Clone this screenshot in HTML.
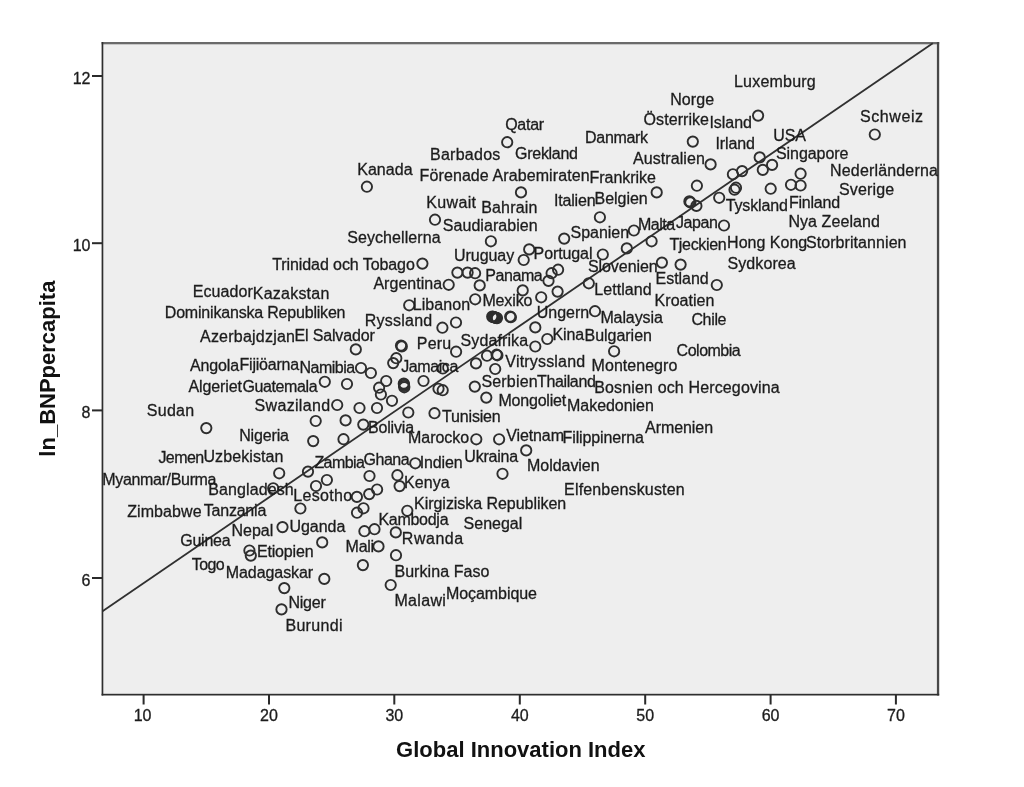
<!DOCTYPE html>
<html><head><meta charset="utf-8"><title>Scatter</title>
<style>
html,body{margin:0;padding:0;background:#fff;}
svg{display:block;font-family:"Liberation Sans",Arial,sans-serif;}
.l{font-size:16px;fill:#1c1c1c;stroke:#1c1c1c;stroke-width:0.3;}
.t{font-size:16px;fill:#1c1c1c;stroke:#1c1c1c;stroke-width:0.3;}
.ax{font-size:22px;font-weight:bold;fill:#111;}
.p{fill:none;stroke:#2e2e2e;stroke-width:1.9;}
</style></head><body>
<svg width="1024" height="787" viewBox="0 0 1024 787">
<rect x="0" y="0" width="1024" height="787" fill="#ffffff"/>
<rect x="102" y="43" width="836" height="651.5" fill="#eeeeee"/>
<rect x="101.6" y="42" width="837.6" height="2.3" fill="#6a6a6a"/>
<rect x="936.9" y="42" width="2.3" height="653.5" fill="#484848"/>
<rect x="101.6" y="42" width="1.7" height="653.5" fill="#2e2e2e"/>
<rect x="101.6" y="693.8" width="837.6" height="1.7" fill="#2e2e2e"/>

<rect x="142.6" y="695" width="2" height="9.5" fill="#2a2a2a"/>
<text class="t" x="142.6" y="720.5" text-anchor="middle">10</text>
<rect x="268.0" y="695" width="2" height="9.5" fill="#2a2a2a"/>
<text class="t" x="269.0" y="720.5" text-anchor="middle">20</text>
<rect x="393.3" y="695" width="2" height="9.5" fill="#2a2a2a"/>
<text class="t" x="394.3" y="720.5" text-anchor="middle">30</text>
<rect x="518.8" y="695" width="2" height="9.5" fill="#2a2a2a"/>
<text class="t" x="519.8" y="720.5" text-anchor="middle">40</text>
<rect x="644.2" y="695" width="2" height="9.5" fill="#2a2a2a"/>
<text class="t" x="645.2" y="720.5" text-anchor="middle">50</text>
<rect x="769.6" y="695" width="2" height="9.5" fill="#2a2a2a"/>
<text class="t" x="770.6" y="720.5" text-anchor="middle">60</text>
<rect x="894.9" y="695" width="2" height="9.5" fill="#2a2a2a"/>
<text class="t" x="895.9" y="720.5" text-anchor="middle">70</text>
<rect x="92" y="75.0" width="10" height="2" fill="#2a2a2a"/>
<text class="t" x="90.5" y="84.0" text-anchor="end">12</text>
<rect x="92" y="242.2" width="10" height="2" fill="#2a2a2a"/>
<text class="t" x="90.5" y="251.2" text-anchor="end">10</text>
<rect x="92" y="409.4" width="10" height="2" fill="#2a2a2a"/>
<text class="t" x="90.5" y="418.4" text-anchor="end">8</text>
<rect x="92" y="577.0" width="10" height="2" fill="#2a2a2a"/>
<text class="t" x="90.5" y="586.0" text-anchor="end">6</text>
<text class="ax" x="520.8" y="757.4" text-anchor="middle">Global Innovation Index</text>
<text class="ax" transform="translate(55,368.6) rotate(-90)" text-anchor="middle">ln_BNPpercapita</text>
<line x1="102.5" y1="611.3" x2="932.8" y2="43.2" stroke="#303030" stroke-width="1.8"/>
<g class="p">
<circle cx="366.9" cy="186.7" r="5.15"/>
<circle cx="507.2" cy="142.2" r="5.15"/>
<circle cx="521.0" cy="192.4" r="5.15"/>
<circle cx="692.8" cy="141.6" r="5.15"/>
<circle cx="710.6" cy="164.4" r="5.15"/>
<circle cx="696.9" cy="185.7" r="5.15"/>
<circle cx="656.7" cy="192.4" r="5.15"/>
<circle cx="758.1" cy="115.6" r="5.15"/>
<circle cx="874.8" cy="134.5" r="5.15"/>
<circle cx="759.7" cy="157.4" r="5.15"/>
<circle cx="772.1" cy="164.9" r="5.15"/>
<circle cx="762.8" cy="169.9" r="5.15"/>
<circle cx="742.1" cy="171.1" r="5.15"/>
<circle cx="732.9" cy="174.3" r="5.15"/>
<circle cx="800.6" cy="173.7" r="5.15"/>
<circle cx="800.6" cy="185.5" r="5.15"/>
<circle cx="791.0" cy="184.8" r="5.15"/>
<circle cx="770.7" cy="188.7" r="5.15"/>
<circle cx="734.5" cy="189.7" r="5.15"/>
<circle cx="736.0" cy="187.7" r="5.15"/>
<circle cx="719.2" cy="197.8" r="5.15"/>
<circle cx="689.4" cy="201.4" r="5.15"/>
<circle cx="690.4" cy="202.4" r="5.15"/>
<circle cx="696.4" cy="205.9" r="5.15"/>
<circle cx="724.0" cy="225.5" r="5.15"/>
<circle cx="435.0" cy="219.7" r="5.15"/>
<circle cx="490.9" cy="241.3" r="5.15"/>
<circle cx="422.4" cy="263.6" r="5.15"/>
<circle cx="457.4" cy="272.6" r="5.15"/>
<circle cx="467.6" cy="272.6" r="5.15"/>
<circle cx="475.1" cy="273.2" r="5.15"/>
<circle cx="448.7" cy="284.8" r="5.15"/>
<circle cx="479.7" cy="285.4" r="5.15"/>
<circle cx="409.2" cy="305.3" r="5.15"/>
<circle cx="475.2" cy="299.3" r="5.15"/>
<circle cx="442.4" cy="327.7" r="5.15"/>
<circle cx="456.0" cy="322.5" r="5.15"/>
<circle cx="492.2" cy="316.6" r="5.15"/>
<circle cx="493.0" cy="316.9" r="5.15"/>
<circle cx="493.8" cy="317.1" r="5.15"/>
<circle cx="494.6" cy="317.4" r="5.15"/>
<circle cx="495.4" cy="317.6" r="5.15"/>
<circle cx="496.2" cy="317.9" r="5.15"/>
<circle cx="497.0" cy="318.1" r="5.15"/>
<circle cx="510.2" cy="316.6" r="5.15"/>
<circle cx="510.9" cy="317.2" r="5.15"/>
<circle cx="355.8" cy="349.4" r="5.15"/>
<circle cx="401.0" cy="345.6" r="5.15"/>
<circle cx="401.8" cy="346.4" r="5.15"/>
<circle cx="396.3" cy="358.2" r="5.15"/>
<circle cx="393.2" cy="363.1" r="5.15"/>
<circle cx="456.1" cy="351.7" r="5.15"/>
<circle cx="487.0" cy="355.7" r="5.15"/>
<circle cx="496.6" cy="354.7" r="5.15"/>
<circle cx="497.4" cy="355.3" r="5.15"/>
<circle cx="599.9" cy="217.3" r="5.15"/>
<circle cx="564.2" cy="238.6" r="5.15"/>
<circle cx="633.9" cy="230.5" r="5.15"/>
<circle cx="651.6" cy="241.3" r="5.15"/>
<circle cx="626.8" cy="248.4" r="5.15"/>
<circle cx="529.2" cy="249.4" r="5.15"/>
<circle cx="523.7" cy="260.0" r="5.15"/>
<circle cx="602.8" cy="254.5" r="5.15"/>
<circle cx="661.9" cy="262.6" r="5.15"/>
<circle cx="680.6" cy="264.6" r="5.15"/>
<circle cx="558.1" cy="269.7" r="5.15"/>
<circle cx="551.6" cy="273.2" r="5.15"/>
<circle cx="548.5" cy="280.9" r="5.15"/>
<circle cx="588.8" cy="283.3" r="5.15"/>
<circle cx="716.8" cy="285.0" r="5.15"/>
<circle cx="522.7" cy="290.4" r="5.15"/>
<circle cx="557.6" cy="291.6" r="5.15"/>
<circle cx="541.2" cy="297.3" r="5.15"/>
<circle cx="595.0" cy="311.2" r="5.15"/>
<circle cx="535.3" cy="327.4" r="5.15"/>
<circle cx="547.3" cy="339.0" r="5.15"/>
<circle cx="535.3" cy="346.5" r="5.15"/>
<circle cx="614.1" cy="351.3" r="5.15"/>
<circle cx="361.0" cy="368.0" r="5.15"/>
<circle cx="370.9" cy="373.0" r="5.15"/>
<circle cx="324.8" cy="381.8" r="5.15"/>
<circle cx="347.0" cy="384.0" r="5.15"/>
<circle cx="386.2" cy="381.0" r="5.15"/>
<circle cx="379.1" cy="387.7" r="5.15"/>
<circle cx="380.9" cy="394.5" r="5.15"/>
<circle cx="392.0" cy="400.8" r="5.15"/>
<circle cx="403.8" cy="383.6" r="5.15"/>
<circle cx="404.0" cy="384.8" r="5.15"/>
<circle cx="404.1" cy="386.0" r="5.15"/>
<circle cx="404.3" cy="387.3" r="5.15"/>
<circle cx="423.5" cy="381.0" r="5.15"/>
<circle cx="442.8" cy="368.5" r="5.15"/>
<circle cx="438.5" cy="388.8" r="5.15"/>
<circle cx="442.7" cy="390.2" r="5.15"/>
<circle cx="476.0" cy="363.4" r="5.15"/>
<circle cx="495.2" cy="369.0" r="5.15"/>
<circle cx="474.8" cy="386.6" r="5.15"/>
<circle cx="486.3" cy="397.6" r="5.15"/>
<circle cx="337.2" cy="405.0" r="5.15"/>
<circle cx="359.5" cy="408.0" r="5.15"/>
<circle cx="377.0" cy="408.0" r="5.15"/>
<circle cx="408.3" cy="412.5" r="5.15"/>
<circle cx="434.5" cy="413.2" r="5.15"/>
<circle cx="315.7" cy="421.0" r="5.15"/>
<circle cx="345.6" cy="420.4" r="5.15"/>
<circle cx="363.3" cy="424.6" r="5.15"/>
<circle cx="313.2" cy="441.1" r="5.15"/>
<circle cx="343.5" cy="439.2" r="5.15"/>
<circle cx="476.3" cy="439.3" r="5.15"/>
<circle cx="499.1" cy="439.3" r="5.15"/>
<circle cx="415.3" cy="463.3" r="5.15"/>
<circle cx="308.0" cy="471.6" r="5.15"/>
<circle cx="326.9" cy="480.0" r="5.15"/>
<circle cx="316.0" cy="486.0" r="5.15"/>
<circle cx="369.5" cy="476.0" r="5.15"/>
<circle cx="397.4" cy="475.2" r="5.15"/>
<circle cx="399.6" cy="486.1" r="5.15"/>
<circle cx="502.5" cy="473.8" r="5.15"/>
<circle cx="377.1" cy="489.5" r="5.15"/>
<circle cx="369.2" cy="494.1" r="5.15"/>
<circle cx="356.9" cy="496.9" r="5.15"/>
<circle cx="363.5" cy="508.3" r="5.15"/>
<circle cx="357.0" cy="512.7" r="5.15"/>
<circle cx="407.3" cy="510.8" r="5.15"/>
<circle cx="206.3" cy="428.1" r="5.15"/>
<circle cx="279.2" cy="473.3" r="5.15"/>
<circle cx="273.2" cy="488.3" r="5.15"/>
<circle cx="300.4" cy="508.5" r="5.15"/>
<circle cx="526.2" cy="450.4" r="5.15"/>
<circle cx="282.5" cy="527.1" r="5.15"/>
<circle cx="249.4" cy="550.5" r="5.15"/>
<circle cx="250.8" cy="555.6" r="5.15"/>
<circle cx="284.3" cy="588.1" r="5.15"/>
<circle cx="281.5" cy="609.4" r="5.15"/>
<circle cx="364.4" cy="531.2" r="5.15"/>
<circle cx="374.5" cy="529.2" r="5.15"/>
<circle cx="395.8" cy="532.4" r="5.15"/>
<circle cx="322.2" cy="542.4" r="5.15"/>
<circle cx="378.5" cy="546.4" r="5.15"/>
<circle cx="396.0" cy="555.2" r="5.15"/>
<circle cx="362.9" cy="565.1" r="5.15"/>
<circle cx="324.3" cy="578.9" r="5.15"/>
<circle cx="390.7" cy="585.0" r="5.15"/>
</g>
<g class="l">
<text x="734.0" y="86.8" dx="0 0.21 0.21 0.21 0.21 0.21 0.21 0.21 0.21">Luxemburg</text>
<text x="670.2" y="104.5" dx="0 0.09 0.09 0.09 0.09">Norge</text>
<text x="859.9" y="122.2" dx="0 0.60 0.60 0.60 0.60 0.60 0.60">Schweiz</text>
<text x="643.6" y="124.8" dx="0 0.06 0.06 0.06 0.06 0.06 0.06 0.06 0.06">Österrike</text>
<text x="709.4" y="128.3" dx="0 -0.04 -0.04 -0.04 -0.04 -0.04">Island</text>
<text x="505.2" y="129.7" dx="0 -0.29 -0.29 -0.29 -0.29">Qatar</text>
<text x="773.2" y="140.5" dx="0 -0.08 -0.08">USA</text>
<text x="585.1" y="143.1" dx="0 -0.32 -0.32 -0.32 -0.32 -0.32 -0.32">Danmark</text>
<text x="715.5" y="149.2" dx="0 -0.11 -0.11 -0.11 -0.11 -0.11">Irland</text>
<text x="430.0" y="160.0" dx="0 0.26 0.26 0.26 0.26 0.26 0.26 0.26">Barbados</text>
<text x="515.1" y="159.2" dx="0 -0.30 -0.30 -0.30 -0.30 -0.30 -0.30 -0.30">Grekland</text>
<text x="775.9" y="159.4" dx="0 -0.05 -0.05 -0.05 -0.05 -0.05 -0.05 -0.05 -0.05">Singapore</text>
<text x="632.9" y="164.1" dx="0 0.09 0.09 0.09 0.09 0.09 0.09 0.09 0.09 0.09">Australien</text>
<text x="357.2" y="175.1" dx="0 0.03 0.03 0.03 0.03 0.03">Kanada</text>
<text x="830.1" y="175.7" dx="0 0.15 0.15 0.15 0.15 0.15 0.15 0.15 0.15 0.15 0.15 0.15 0.15">Nederländerna</text>
<text x="419.6" y="180.7" dx="0 0.09 0.09 0.09 0.09 0.09 0.09 0.09 0.09 0.09 0.09 0.09 0.09 0.09 0.09 0.09 0.09 0.09 0.09 0.09 0.09">Förenade Arabemiraten</text>
<text x="589.6" y="183.2" dx="0 -0.05 -0.05 -0.05 -0.05 -0.05 -0.05 -0.05 -0.05">Frankrike</text>
<text x="839.0" y="194.5" dx="0 0.15 0.15 0.15 0.15 0.15 0.15">Sverige</text>
<text x="426.2" y="207.5" dx="0 0.35 0.35 0.35 0.35 0.35">Kuwait</text>
<text x="553.9" y="205.5" dx="0 -0.17 -0.17 -0.17 -0.17 -0.17 -0.17">Italien</text>
<text x="594.6" y="203.5" dx="0 -0.06 -0.06 -0.06 -0.06 -0.06 -0.06">Belgien</text>
<text x="725.8" y="211.3" dx="0 -0.17 -0.17 -0.17 -0.17 -0.17 -0.17 -0.17">Tyskland</text>
<text x="788.9" y="207.5" dx="0 -0.23 -0.23 -0.23 -0.23 -0.23 -0.23">Finland</text>
<text x="481.2" y="213.1" dx="0 0.16 0.16 0.16 0.16 0.16 0.16">Bahrain</text>
<text x="788.4" y="226.9" dx="0 0.07 0.07 0.07 0.07 0.07 0.07 0.07 0.07 0.07 0.07">Nya Zeeland</text>
<text x="675.9" y="227.9" dx="0 -0.38 -0.38 -0.38 -0.38">Japan</text>
<text x="638.0" y="229.6" dx="0 -0.48 -0.48 -0.48 -0.48">Malta</text>
<text x="442.8" y="231.0" dx="0 0.04 0.04 0.04 0.04 0.04 0.04 0.04 0.04 0.04 0.04 0.04">Saudiarabien</text>
<text x="570.5" y="238.1" dx="0 -0.02 -0.02 -0.02 -0.02 -0.02 -0.02">Spanien</text>
<text x="347.2" y="243.2" dx="0 0.07 0.07 0.07 0.07 0.07 0.07 0.07 0.07 0.07 0.07 0.07">Seychellerna</text>
<text x="727.1" y="247.7" dx="0 -0.00 -0.00 -0.00 -0.00 -0.00 -0.00 -0.00 -0.00">Hong Kong</text>
<text x="805.9" y="247.7" dx="0 0.07 0.07 0.07 0.07 0.07 0.07 0.07 0.07 0.07 0.07 0.07 0.07 0.07">Storbritannien</text>
<text x="669.4" y="250.3" dx="0 -0.34 -0.34 -0.34 -0.34 -0.34 -0.34 -0.34">Tjeckien</text>
<text x="533.6" y="259.0" dx="0 -0.11 -0.11 -0.11 -0.11 -0.11 -0.11 -0.11">Portugal</text>
<text x="454.1" y="261.1" dx="0 -0.07 -0.07 -0.07 -0.07 -0.07 -0.07">Uruguay</text>
<text x="727.4" y="268.6" dx="0 0.10 0.10 0.10 0.10 0.10 0.10 0.10">Sydkorea</text>
<text x="272.2" y="270.0" dx="0 -0.09 -0.09 -0.09 -0.09 -0.09 -0.09 -0.09 -0.09 -0.09 -0.09 -0.09 -0.09 -0.09 -0.09 -0.09 -0.09 -0.09 -0.09">Trinidad och Tobago</text>
<text x="587.9" y="271.6" dx="0 -0.06 -0.06 -0.06 -0.06 -0.06 -0.06 -0.06 -0.06">Slovenien</text>
<text x="485.2" y="281.4" dx="0 -0.42 -0.42 -0.42 -0.42 -0.42">Panama</text>
<text x="655.6" y="284.4" dx="0 -0.06 -0.06 -0.06 -0.06 -0.06 -0.06">Estland</text>
<text x="373.4" y="289.3" dx="0 0.03 0.03 0.03 0.03 0.03 0.03 0.03 0.03">Argentina</text>
<text x="594.2" y="295.0" dx="0 0.07 0.07 0.07 0.07 0.07 0.07 0.07">Lettland</text>
<text x="192.8" y="297.0" dx="0 0.05 0.05 0.05 0.05 0.05 0.05">Ecuador</text>
<text x="252.8" y="299.1" dx="0 0.22 0.22 0.22 0.22 0.22 0.22 0.22 0.22">Kazakstan</text>
<text x="654.6" y="305.8" dx="0 0.02 0.02 0.02 0.02 0.02 0.02 0.02">Kroatien</text>
<text x="482.4" y="306.0" dx="0 -0.13 -0.13 -0.13 -0.13 -0.13">Mexiko</text>
<text x="412.7" y="310.3" dx="0 0.08 0.08 0.08 0.08 0.08 0.08">Libanon</text>
<text x="536.7" y="317.5" dx="0 -0.00 -0.00 -0.00 -0.00 -0.00">Ungern</text>
<text x="164.8" y="318.0" dx="0 -0.20 -0.20 -0.20 -0.20 -0.20 -0.20 -0.20 -0.20 -0.20 -0.20 -0.20 -0.20 -0.20 -0.20 -0.20 -0.20 -0.20 -0.20 -0.20 -0.20 -0.20 -0.20">Dominikanska Republiken</text>
<text x="600.4" y="322.5" dx="0 -0.11 -0.11 -0.11 -0.11 -0.11 -0.11 -0.11">Malaysia</text>
<text x="691.4" y="324.9" dx="0 -0.35 -0.35 -0.35 -0.35">Chile</text>
<text x="364.7" y="326.1" dx="0 0.24 0.24 0.24 0.24 0.24 0.24 0.24">Ryssland</text>
<text x="552.6" y="339.7" dx="0 -0.17 -0.17 -0.17">Kina</text>
<text x="584.5" y="340.7" dx="0 -0.03 -0.03 -0.03 -0.03 -0.03 -0.03 -0.03 -0.03">Bulgarien</text>
<text x="294.5" y="340.5" dx="0 -0.16 -0.16 -0.16 -0.16 -0.16 -0.16 -0.16 -0.16 -0.16 -0.16">El Salvador</text>
<text x="200.0" y="341.8" dx="0 0.22 0.22 0.22 0.22 0.22 0.22 0.22 0.22 0.22 0.22 0.22">Azerbajdzjan</text>
<text x="460.6" y="345.5" dx="0 0.09 0.09 0.09 0.09 0.09 0.09 0.09 0.09">Sydafrika</text>
<text x="416.8" y="348.9" dx="0 0.16 0.16 0.16">Peru</text>
<text x="676.6" y="356.0" dx="0 -0.50 -0.50 -0.50 -0.50 -0.50 -0.50 -0.50">Colombia</text>
<text x="505.3" y="366.5" dx="0 0.19 0.19 0.19 0.19 0.19 0.19 0.19 0.19 0.19 0.19">Vitryssland</text>
<text x="591.6" y="370.7" dx="0 0.03 0.03 0.03 0.03 0.03 0.03 0.03 0.03 0.03">Montenegro</text>
<text x="190.0" y="370.7" dx="0 -0.15 -0.15 -0.15 -0.15 -0.15">Angola</text>
<text x="239.5" y="369.6" dx="0 -0.22 -0.22 -0.22 -0.22 -0.22 -0.22 -0.22 -0.22">Fijiöarna</text>
<text x="299.6" y="372.5" dx="0 -0.54 -0.54 -0.54 -0.54 -0.54 -0.54">Namibia</text>
<text x="401.2" y="371.6" dx="0 -0.42 -0.42 -0.42 -0.42 -0.42 -0.42">Jamaica</text>
<text x="481.4" y="387.3" dx="0 0.18 0.18 0.18 0.18 0.18 0.18">Serbien</text>
<text x="537.1" y="386.9" dx="0 -0.39 -0.39 -0.39 -0.39 -0.39 -0.39 -0.39">Thailand</text>
<text x="188.4" y="392.0" dx="0 -0.09 -0.09 -0.09 -0.09 -0.09 -0.09 -0.09">Algeriet</text>
<text x="242.5" y="392.0" dx="0 -0.41 -0.41 -0.41 -0.41 -0.41 -0.41 -0.41 -0.41">Guatemala</text>
<text x="594.2" y="392.6" dx="0 0.14 0.14 0.14 0.14 0.14 0.14 0.14 0.14 0.14 0.14 0.14 0.14 0.14 0.14 0.14 0.14 0.14 0.14 0.14 0.14 0.14 0.14">Bosnien och Hercegovina</text>
<text x="498.4" y="405.6" dx="0 -0.20 -0.20 -0.20 -0.20 -0.20 -0.20 -0.20 -0.20">Mongoliet</text>
<text x="254.6" y="411.3" dx="0 0.31 0.31 0.31 0.31 0.31 0.31 0.31 0.31">Swaziland</text>
<text x="567.1" y="411.3" dx="0 -0.06 -0.06 -0.06 -0.06 -0.06 -0.06 -0.06 -0.06 -0.06">Makedonien</text>
<text x="146.8" y="415.8" dx="0 0.26 0.26 0.26 0.26">Sudan</text>
<text x="442.0" y="421.9" dx="0 -0.17 -0.17 -0.17 -0.17 -0.17 -0.17 -0.17">Tunisien</text>
<text x="368.0" y="432.7" dx="0 -0.19 -0.19 -0.19 -0.19 -0.19 -0.19">Bolivia</text>
<text x="645.1" y="432.7" dx="0 -0.08 -0.08 -0.08 -0.08 -0.08 -0.08 -0.08">Armenien</text>
<text x="239.2" y="441.4" dx="0 -0.16 -0.16 -0.16 -0.16 -0.16 -0.16">Nigeria</text>
<text x="506.2" y="441.0" dx="0 -0.11 -0.11 -0.11 -0.11 -0.11 -0.11">Vietnam</text>
<text x="408.0" y="442.8" dx="0 -0.05 -0.05 -0.05 -0.05 -0.05 -0.05">Marocko</text>
<text x="562.6" y="442.8" dx="0 -0.14 -0.14 -0.14 -0.14 -0.14 -0.14 -0.14 -0.14 -0.14 -0.14 -0.14">Filippinerna</text>
<text x="203.4" y="462.1" dx="0 0.10 0.10 0.10 0.10 0.10 0.10 0.10 0.10 0.10">Uzbekistan</text>
<text x="464.3" y="462.1" dx="0 -0.22 -0.22 -0.22 -0.22 -0.22 -0.22">Ukraina</text>
<text x="158.4" y="463.1" dx="0 -0.56 -0.56 -0.56 -0.56">Jemen</text>
<text x="363.5" y="465.2" dx="0 -0.48 -0.48 -0.48 -0.48">Ghana</text>
<text x="314.4" y="468.4" dx="0 -0.58 -0.58 -0.58 -0.58 -0.58">Zambia</text>
<text x="419.7" y="468.2" dx="0 -0.13 -0.13 -0.13 -0.13 -0.13">Indien</text>
<text x="527.1" y="471.3" dx="0 -0.06 -0.06 -0.06 -0.06 -0.06 -0.06 -0.06 -0.06">Moldavien</text>
<text x="102.3" y="484.9" dx="0 -0.34 -0.34 -0.34 -0.34 -0.34 -0.34 -0.34 -0.34 -0.34 -0.34 -0.34 -0.34">Myanmar/Burma</text>
<text x="403.9" y="487.5" dx="0 0.11 0.11 0.11 0.11">Kenya</text>
<text x="208.2" y="495.1" dx="0 0.10 0.10 0.10 0.10 0.10 0.10 0.10 0.10 0.10">Bangladesh</text>
<text x="564.1" y="495.1" dx="0 0.15 0.15 0.15 0.15 0.15 0.15 0.15 0.15 0.15 0.15 0.15 0.15 0.15 0.15">Elfenbenskusten</text>
<text x="293.2" y="501.0" dx="0 0.32 0.32 0.32 0.32 0.32 0.32">Lesotho</text>
<text x="414.1" y="508.5" dx="0 -0.05 -0.05 -0.05 -0.05 -0.05 -0.05 -0.05 -0.05 -0.05 -0.05 -0.05 -0.05 -0.05 -0.05 -0.05 -0.05 -0.05 -0.05 -0.05 -0.05">Kirgiziska Republiken</text>
<text x="203.7" y="515.7" dx="0 -0.21 -0.21 -0.21 -0.21 -0.21 -0.21 -0.21">Tanzania</text>
<text x="127.2" y="517.4" dx="0 0.08 0.08 0.08 0.08 0.08 0.08 0.08">Zimbabwe</text>
<text x="378.4" y="524.5" dx="0 -0.28 -0.28 -0.28 -0.28 -0.28 -0.28 -0.28">Kambodja</text>
<text x="463.6" y="529.2" dx="0 -0.01 -0.01 -0.01 -0.01 -0.01 -0.01">Senegal</text>
<text x="289.4" y="531.7" dx="0 -0.03 -0.03 -0.03 -0.03 -0.03">Uganda</text>
<text x="231.4" y="535.7" dx="0 0.02 0.02 0.02 0.02">Nepal</text>
<text x="401.8" y="544.3" dx="0 0.52 0.52 0.52 0.52 0.52">Rwanda</text>
<text x="180.3" y="545.9" dx="0 -0.27 -0.27 -0.27 -0.27 -0.27">Guinea</text>
<text x="345.6" y="552.0" dx="0 -0.27 -0.27 -0.27">Mali</text>
<text x="256.9" y="556.7" dx="0 -0.17 -0.17 -0.17 -0.17 -0.17 -0.17 -0.17">Etiopien</text>
<text x="191.8" y="569.9" dx="0 -0.64 -0.64 -0.64">Togo</text>
<text x="394.4" y="577.4" dx="0 0.07 0.07 0.07 0.07 0.07 0.07 0.07 0.07 0.07 0.07 0.07">Burkina Faso</text>
<text x="225.8" y="578.4" dx="0 -0.08 -0.08 -0.08 -0.08 -0.08 -0.08 -0.08 -0.08 -0.08">Madagaskar</text>
<text x="446.0" y="598.8" dx="0 -0.07 -0.07 -0.07 -0.07 -0.07 -0.07 -0.07 -0.07 -0.07">Moçambique</text>
<text x="394.4" y="605.9" dx="0 0.34 0.34 0.34 0.34 0.34">Malawi</text>
<text x="288.4" y="608.3" dx="0 -0.21 -0.21 -0.21 -0.21">Niger</text>
<text x="285.4" y="631.3" dx="0 0.31 0.31 0.31 0.31 0.31 0.31">Burundi</text>
</g>
</svg></body></html>
